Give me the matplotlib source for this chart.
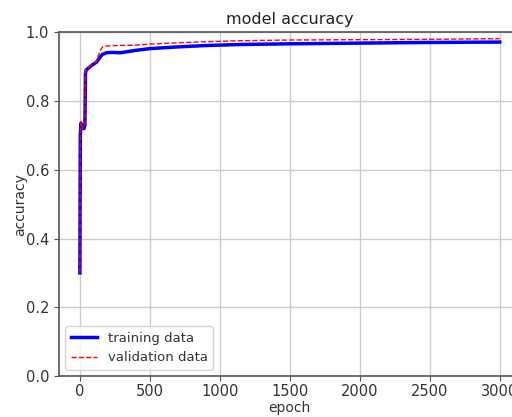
import matplotlib
matplotlib.use("Agg")
import matplotlib.pyplot as plt

# values
train_epoch = [0, 3, 8, 15, 20, 30, 36, 40, 45, 60, 90, 120, 140, 160, 190, 230, 290,
               400, 500, 700, 900, 1150, 1500, 2000, 2500, 3000]
train_acc = [0.30, 0.70, 0.735, 0.725, 0.72, 0.72, 0.73, 0.88, 0.89, 0.895, 0.905, 0.913,
             0.925, 0.935, 0.940, 0.941, 0.940, 0.947, 0.952, 0.957, 0.961, 0.964,
             0.966, 0.968, 0.970, 0.971]

val_epoch = [0, 3, 8, 15, 20, 30, 36, 40, 45, 60, 90, 120, 130, 150, 165, 200, 260,
             400, 500, 700, 900, 1150, 1500, 2000, 2500, 3000]
val_acc = [0.30, 0.71, 0.740, 0.730, 0.72, 0.725, 0.735, 0.885, 0.893, 0.897, 0.907, 0.915,
           0.930, 0.950, 0.958, 0.960, 0.961, 0.962, 0.965, 0.969, 0.972, 0.975,
           0.977, 0.978, 0.979, 0.981]

fig = plt.figure(figsize=(5.12, 4.17), dpi=100)
ax = fig.add_axes([0.115, 0.098, 0.902, 0.825])

ax.plot(train_epoch, train_acc, color="blue", linewidth=2.5, label="training data")
ax.plot(val_epoch, val_acc, color="red", linewidth=1, linestyle="--", label="validation data")

ax.set_title("model accuracy", fontsize=11.5, color="#222222")
ax.set_xlabel("epoch", fontsize=10, color="#333333", labelpad=1)
ax.set_ylabel("accuracy", fontsize=10, color="#333333", labelpad=-1)
ax.set_xlim(-150, 3150)
ax.set_ylim(0, 1.0)
ax.set_xticks([0, 500, 1000, 1500, 2000, 2500, 3000])
ax.tick_params(labelsize=10.5, labelcolor="#333333", color="#555555", length=3.5)
ax.tick_params(axis="x", pad=2.5)
for s in ax.spines.values():
    s.set_color("#555555")
    s.set_linewidth(1.2)
ax.grid(True, color="#cccccc", linewidth=1)
ax.legend(loc="lower left", fontsize=9.5, labelcolor="#333333")

fig.savefig("out.png", dpi=100)
